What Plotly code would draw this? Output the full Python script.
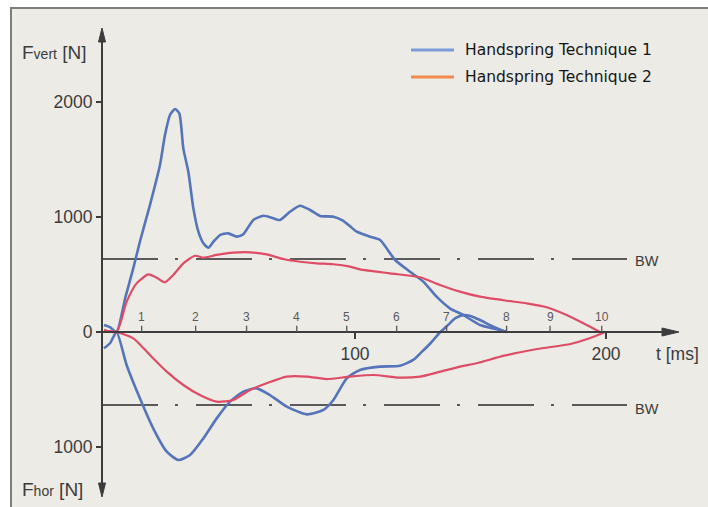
import plotly.graph_objects as go

# ---------------- data ----------------
# Technique 1, vertical force (N) vs time (ms)
t1v_t = [0, 2.5, 5, 8.5, 11.7, 14.3, 18.3, 22.3, 24.3, 26.3, 28.3, 30, 31.6, 33.6, 35.6, 37.6,
         39.6, 41.6, 43.6, 46.2, 49.5, 52.9, 55.5, 59.5, 63.5, 66.8, 70.1, 74.1, 78.1, 82.1,
         86.1, 91.4, 95, 98, 100.7, 106, 110, 116, 121.9, 127.2, 132.5, 137.8, 143.1, 149.8,
         156.5, 160.4]
t1v_f = [60, 40, 0, 300, 557, 785, 1104, 1452, 1713, 1887, 1939, 1901, 1597, 1394, 1075, 872,
         771, 733, 785, 843, 858, 829, 850, 974, 1011, 994, 974, 1046, 1098, 1061,
         1009, 1003, 970, 920, 872, 829, 800, 626, 524, 438, 307, 206, 148, 61,
         23, 0]

# Technique 2, vertical force
t2v_t = [0, 5, 9, 13, 17.7, 21, 24.3, 27.6, 31.6, 36.3, 39.6, 44.9, 51.5, 58.2, 64.8, 71.4,
         78.1, 84.7, 91.4, 98, 102, 113.9, 125.9, 133.9, 141.8, 149.8, 160.4, 168.4, 176.4,
         184.3, 191, 197.6]
t2v_f = [20, 0, 263, 423, 501, 472, 432, 496, 597, 663, 646, 670, 690, 693, 675, 635,
         611, 597, 589, 568, 545, 510, 476, 409, 351, 307, 272, 249, 215,
         148, 76, 0]

# Technique 1, horizontal force (drawn downwards, so negative)
t1h_t = [0, 2.4, 5, 9, 14.3, 19.6, 25, 29.6, 34.3, 39.6, 44.9, 50.2, 55.5, 60.8, 66.1, 72.8,
         80.8, 87.4, 91.4, 96.7, 102, 110, 117.9, 123.2, 126.5, 130, 134, 137, 140, 143.4,
         146, 149.8, 155.1, 160.4]
t1h_f = [-142, -98, 0, -287, -577, -838, -1041, -1113, -1070, -925, -751, -606, -519, -490,
         -548, -649, -716, -678, -591, -403, -330, -301, -293, -243, -175, -100, 0, 60, 120,
         148, 140, 104, 46, 0]

# Technique 2, horizontal force
t2h_t = [0, 5, 11.7, 18.3, 25, 31.6, 38.2, 44.9, 51.5, 58.2, 64.8, 72.8, 80.8, 88.7, 98,
         107.3, 117.9, 125.9, 133.9, 141.8, 148.5, 159.4, 172.6, 185.9, 192.6, 198.5, 199.5]
t2h_f = [10, 0, -55, -200, -345, -461, -548, -606, -591, -504, -446, -388, -388, -409, -388,
         -374, -397, -388, -345, -301, -272, -206, -148, -104, -61, -11, 0]

BW = 635                      # body weight level (N)
phase_t = [15.0, 36.5, 56.8, 76.8, 96.7, 116.6, 136.5, 160.4, 177.7, 198.3]
phase_labels = ["1", "2", "3", "4", "5", "6", "7", "8", "9", "10"]

y_tickvals = [2000, 1000, 0, -1000]
y_ticktext = ["2000", "1000", "0", "1000"]
x_tickvals = [100, 200]
x_ticktext = ["100", "200"]

series_names = ["Handspring Technique 1", "Handspring Technique 2"]

# ---------------- layout helpers ----------------
W, H = 708, 507
X0PX, XSCALE = 104, 2.51     # pixel of t=0, pixels per ms
Y0PX, YSCALE = 332, 0.115    # pixel of F=0, pixels per N


def X(px):
    return px / W


def Y(py):
    return 1 - py / H


FONT = "Liberation Sans, Arial, sans-serif"
BLUE = "#5574BA"
RED = "#DE4C66"
AXC = "#3c3c3c"

fig = go.Figure()
for tt, ff, col, wid in [(t1v_t, t1v_f, BLUE, 2.6), (t1h_t, t1h_f, BLUE, 2.6),
                         (t2v_t, t2v_f, RED, 2.2), (t2h_t, t2h_f, RED, 2.2)]:
    fig.add_trace(go.Scatter(x=tt, y=ff, mode="lines",
                             line=dict(color=col, width=wid, shape="spline", smoothing=0.6),
                             showlegend=False, hoverinfo="skip"))

shapes = []
# frame / background
shapes.append(dict(type="rect", xref="paper", yref="paper", x0=X(11), x1=X(715), y0=Y(8), y1=Y(515),
                   fillcolor="#ECEBE6", line=dict(color="#7d7d7d", width=2), layer="below"))
# BW reference lines
t_axis = (102 - X0PX) / XSCALE
t_bw_end = (627 - X0PX) / XSCALE
for lvl in (BW, -BW):
    shapes.append(dict(type="line", xref="x", yref="y", x0=t_axis, x1=t_bw_end, y0=lvl, y1=lvl,
                       line=dict(color="#5a5a5a", width=2, dash="56px,17px,3px,18px"), layer="below"))
# axis lines
shapes.append(dict(type="line", xref="paper", yref="paper", x0=X(102), x1=X(102), y0=Y(36), y1=Y(489),
                   line=dict(color=AXC, width=2)))
shapes.append(dict(type="line", xref="paper", yref="paper", x0=X(102), x1=X(668), y0=Y(Y0PX), y1=Y(Y0PX),
                   line=dict(color=AXC, width=2)))
# arrow heads
arrows = [
    [(102, 28), (98.5, 42), (105.5, 42)],
    [(102, 497), (98.5, 483), (105.5, 483)],
    [(679, Y0PX), (662, Y0PX - 4), (662, Y0PX + 4)],
]
for pts in arrows:
    path = "M {} {} L {} {} L {} {} Z".format(X(pts[0][0]), Y(pts[0][1]), X(pts[1][0]), Y(pts[1][1]),
                                              X(pts[2][0]), Y(pts[2][1]))
    shapes.append(dict(type="path", xref="paper", yref="paper", path=path,
                       fillcolor=AXC, line=dict(color=AXC, width=1)))
# phase tick marks
for pt in phase_t:
    shapes.append(dict(type="line", xref="x", yref="y", x0=pt, x1=pt, y0=0, y1=55,
                       line=dict(color="#555", width=1.3)))
# legend samples
shapes.append(dict(type="line", xref="paper", yref="paper", x0=X(411), x1=X(454), y0=Y(50), y1=Y(50),
                   line=dict(color="#7B9BD9", width=3)))
shapes.append(dict(type="line", xref="paper", yref="paper", x0=X(411), x1=X(454), y0=Y(77), y1=Y(77),
                   line=dict(color="#F28A4E", width=3)))

ann = []
for pt, lab in zip(phase_t, phase_labels):
    ann.append(dict(x=pt, y=0, xref="x", yref="y", text=lab, showarrow=False, yshift=15,
                    font=dict(family=FONT, size=12, color="#5a5a5a")))
ann.append(dict(x=X(20), y=Y(53), xref="paper", yref="paper", xanchor="left", yanchor="middle",
                text="F<span style='font-size:14px'>vert</span> [N]", showarrow=False,
                font=dict(family=FONT, size=19, color=AXC)))
ann.append(dict(x=X(20), y=Y(489), xref="paper", yref="paper", xanchor="left", yanchor="middle",
                text="F<span style='font-size:14px'>hor</span> [N]", showarrow=False,
                font=dict(family=FONT, size=19, color=AXC)))
ann.append(dict(x=X(654), y=Y(354), xref="paper", yref="paper", xanchor="left", yanchor="middle",
                text="t [ms]", showarrow=False, font=dict(family=FONT, size=17.5, color=AXC)))
for py in (261, 409):
    ann.append(dict(x=X(633), y=Y(py), xref="paper", yref="paper", xanchor="left", yanchor="middle",
                    text="BW", showarrow=False, font=dict(family=FONT, size=14.5, color=AXC)))
for i, name in enumerate(series_names):
    ann.append(dict(x=X(463), y=Y(50 + 27 * i), xref="paper", yref="paper", xanchor="left",
                    yanchor="middle", text=name, showarrow=False,
                    font=dict(family="DejaVu Sans, sans-serif", size=15.5, color="#151515")))

fig.update_layout(
    width=W, height=H, margin=dict(l=0, r=0, t=0, b=0),
    paper_bgcolor="white", plot_bgcolor="rgba(0,0,0,0)",
    showlegend=False, shapes=shapes, annotations=ann,
    xaxis=dict(range=[(0 - X0PX) / XSCALE, (W - X0PX) / XSCALE], anchor="free",
               position=1 - Y0PX / H, showgrid=False, zeroline=False, showline=False,
               tickvals=x_tickvals, ticktext=x_ticktext, ticks="outside", ticklen=6,
               tickwidth=1.5, tickcolor=AXC, tickfont=dict(family=FONT, size=17.5, color=AXC),
               fixedrange=True),
    yaxis=dict(range=[-(H - Y0PX) / YSCALE, Y0PX / YSCALE], anchor="free", position=X(102),
               showgrid=False, zeroline=False, showline=False,
               tickvals=y_tickvals, ticktext=y_ticktext, ticks="outside", ticklen=6,
               tickwidth=1.5, tickcolor=AXC, tickfont=dict(family=FONT, size=17.5, color=AXC),
               fixedrange=True),
)

fig.write_html("out.html", config={"displayModeBar": False},
               post_script="document.body.style.margin='0';document.body.style.overflow='hidden';")
